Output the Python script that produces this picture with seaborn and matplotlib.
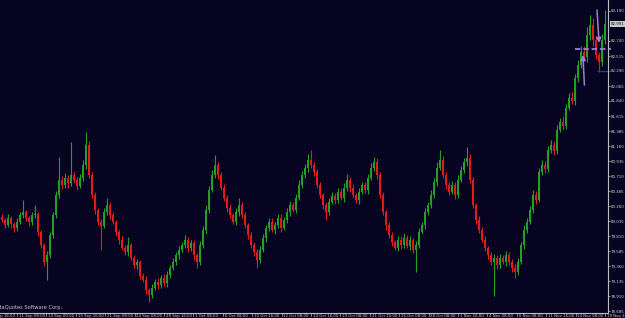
import numpy as np
import pandas as pd
import matplotlib
matplotlib.use("Agg")
import matplotlib.pyplot as plt
import matplotlib.transforms as mtransforms
import seaborn as sns

# ---------------- data ----------------
first_open = 80.10
closes = [
    80.06, 79.98, 80.09, 79.99, 79.93, 80.02, 80.13, 80.17, 80.08, 80.02,
    80.13, 80.15, 79.87, 79.68, 79.43, 79.53, 79.83, 80.13, 80.43, 80.66,
    80.58, 80.69, 80.61, 80.73, 80.66, 80.57, 80.69, 80.88, 81.18, 80.73,
    80.43, 80.21, 80.03, 79.97, 80.18, 80.28, 80.13, 80.03, 79.87, 79.76,
    79.64, 79.58, 79.68, 79.49, 79.38, 79.42, 79.22, 79.16, 79.01, 78.93,
    79.04, 79.13, 79.08, 79.19, 79.11, 79.23, 79.34, 79.43, 79.53, 79.61,
    79.68, 79.76, 79.64, 79.71, 79.53, 79.43, 79.68, 79.91, 80.21, 80.51,
    80.73, 80.88, 80.73, 80.54, 80.39, 80.24, 80.13, 80.03, 80.18, 80.28,
    80.13, 79.98, 79.83, 79.68, 79.58, 79.46, 79.61, 79.79, 79.94, 80.03,
    79.91, 79.98, 80.09, 79.94, 80.06, 80.18, 80.28, 80.21, 80.39, 80.58,
    80.73, 80.84, 80.96, 80.88, 80.78, 80.58, 80.43, 80.28, 80.18, 80.33,
    80.42, 80.36, 80.48, 80.39, 80.54, 80.66, 80.54, 80.43, 80.36, 80.48,
    80.58, 80.51, 80.69, 80.84, 80.93, 80.73, 80.43, 80.18, 79.98, 79.83,
    79.72, 79.64, 79.76, 79.68, 79.79, 79.67, 79.76, 79.61, 79.68, 79.88,
    79.98, 80.18, 80.28, 80.43, 80.63, 80.84, 80.96, 80.73, 80.58, 80.48,
    80.58, 80.43, 80.66, 80.81, 80.93, 80.99, 80.66, 80.28, 80.06, 79.91,
    79.76, 79.64, 79.53, 79.43, 79.49, 79.38, 79.49, 79.43, 79.53, 79.43,
    79.34, 79.28, 79.43, 79.68, 79.91, 80.03, 80.21, 80.43, 80.36, 80.78,
    80.88, 80.82, 81.11, 81.18, 81.09, 81.41, 81.53, 81.47, 81.74, 81.89,
    81.84, 82.19, 82.38, 82.58, 82.50, 82.83, 82.98, 82.76, 82.53, 82.43,
    82.76, 82.99,
]
upper_wicks = [
    .04, .03, .05, .03, .04, .06, .05, .19, .04, .03,
    .05, .13, .03, .04, .03, .06, .05, .04, .06, .34,
    .05, .07, .04, .49, .05, .04, .06, .08, .19, .06,
    .04, .05, .03, .04, .06, .11, .04, .05, .03, .04,
    .05, .04, .12, .03, .04, .05, .03, .04, .05, .03,
    .06, .04, .05, .04, .05, .06, .04, .05, .04, .06,
    .05, .07, .04, .05, .04, .03, .06, .05, .07, .06,
    .08, .15, .05, .04, .06, .04, .05, .03, .06, .11,
    .04, .05, .03, .04, .05, .04, .06, .05, .04, .06,
    .05, .04, .06, .05, .04, .05, .06, .04, .05, .07,
    .06, .05, .08, .15, .05, .04, .05, .03, .04, .06,
    .05, .04, .06, .05, .07, .08, .04, .05, .03, .06,
    .05, .04, .06, .07, .07, .05, .04, .05, .03, .04,
    .05, .04, .06, .05, .07, .04, .05, .03, .06, .05,
    .04, .06, .05, .07, .06, .08, .14, .05, .04, .05,
    .06, .04, .07, .06, .05, .16, .05, .04, .03, .05,
    .04, .05, .03, .04, .06, .04, .05, .04, .06, .05,
    .04, .05, .06, .05, .07, .05, .06, .07, .06, .05,
    .07, .06, .05, .08, .06, .07, .05, .08, .06, .07,
    .08, .06, .07, .09, .08, .12, .15, .10, .06, .05,
    .08, .22,
]
lower_wicks = [
    .04, .05, .03, .06, .05, .04, .03, .05, .04, .06,
    .04, .05, .06, .05, .07, .28, .05, .04, .05, .04,
    .06, .05, .07, .04, .05, .06, .04, .05, .06, .05,
    .04, .06, .05, .37, .04, .05, .06, .04, .05, .06,
    .04, .05, .06, .04, .05, .06, .05, .04, .06, .10,
    .05, .04, .06, .05, .04, .06, .05, .04, .05, .06,
    .04, .05, .06, .05, .07, .10, .05, .04, .06, .05,
    .04, .05, .06, .04, .05, .06, .05, .04, .05, .06,
    .05, .04, .06, .05, .07, .12, .05, .04, .06, .05,
    .04, .06, .05, .07, .04, .05, .06, .04, .05, .04,
    .05, .04, .06, .05, .07, .05, .04, .06, .12, .05,
    .04, .06, .05, .04, .06, .05, .07, .04, .05, .06,
    .04, .05, .06, .04, .05, .06, .04, .05, .07, .05,
    .06, .04, .05, .06, .05, .04, .06, .05, .33, .05,
    .04, .06, .05, .04, .05, .06, .04, .05, .06, .05,
    .04, .06, .05, .04, .05, .06, .05, .04, .06, .05,
    .04, .05, .06, .05, .51, .06, .05, .04, .06, .05,
    .06, .10, .05, .04, .06, .05, .04, .05, .06, .04,
    .05, .06, .04, .05, .06, .05, .04, .06, .05, .04,
    .05, .06, .07, .05, .06, .08, .07, .09, .06, .15,
    .07, .06,
]
# 82.965 sits under the current-price box in the reference, so it is not shown
price_tick_labels = ["83.190", "82.740", "82.515", "82.290", "82.065",
                     "81.840", "81.615", "81.385", "81.160", "80.935", "80.710",
                     "80.485", "80.260", "80.035", "79.810", "79.585", "79.360",
                     "79.135", "78.910", "78.685"]
time_labels = ["10 Sep 16:00", "11 Sep 08:00", "14 Sep 00:00", "15 Sep 16:00",
               "21 Sep 08:00", "24 Sep 08:00", "28 Sep 16:00", "1 Oct 08:00",
               "6 Oct 08:00", "10 Oct 16:00", "12 Oct 08:00", "14 Oct 16:00",
               "19 Oct 08:00", "21 Oct 16:00", "26 Oct 08:00", "28 Oct 08:00",
               "1 Nov 16:00", "4 Nov 08:00", "6 Nov 08:00", "11 Nov 16:00",
               "14 Nov 08:00", "19 Nov 16:00"]
current_price_label = "82.991"
level_price = 82.62
bid_price = 82.29
footer = "MetaQuotes Software Corp."

# ---------------- styling ----------------
BG = "#060420"
UP = "#23a023"
DOWN = "#e41a1a"
FG = "#cfcfcf"
LAV = "#9b80d8"

sns.set_style("dark", {"axes.facecolor": BG, "figure.facecolor": BG})
plt.rcParams["font.family"] = ["DejaVu Sans"]

W, H = 625, 318
fig = plt.figure(figsize=(W / 100, H / 100), dpi=100)
fig.patch.set_facecolor(BG)
ax_w_px, ax_h_px = 608, 313
ax = fig.add_axes([0, (H - ax_h_px) / H, ax_w_px / W, ax_h_px / H])
ax.set_facecolor(BG)

df = pd.DataFrame({"close": closes, "uw": upper_wicks, "lw": lower_wicks})
df["bar"] = np.arange(len(df))
df["open"] = df["close"].shift(1).fillna(first_open)
df["top"] = df[["open", "close"]].max(axis=1)
df["bot"] = df[["open", "close"]].min(axis=1)
df["high"] = df["top"] + df["uw"]
df["low"] = df["bot"] - df["lw"]
df["col"] = np.where(df["close"] >= df["open"], UP, DOWN)

ax.vlines(df["bar"], df["low"], df["high"], colors=df["col"], lw=0.8)
ax.bar(df["bar"], (df["top"] - df["bot"]).clip(lower=0.012), bottom=df["bot"],
       width=0.62, color=df["col"], linewidth=0)

px_per_bar = 3.0
ax.set_xlim(-0.5, ax_w_px / px_per_bar - 0.5)
ax.set_ylim(78.66, 83.355)
ax.grid(False)

# right price axis
ax.yaxis.tick_right()
ax.set_yticks([float(s) for s in price_tick_labels])
ax.set_yticklabels(price_tick_labels)
ax.tick_params(axis="y", colors=FG, labelsize=2.9, length=1.5, width=0.5, pad=0.6)
ax.set_xticks([])
for s in ["left", "top"]:
    ax.spines[s].set_visible(False)
for s in ["right", "bottom"]:
    ax.spines[s].set_visible(True)
    ax.spines[s].set_color("#bdbdbd")
    ax.spines[s].set_linewidth(0.8)

# time labels under the axis (left aligned after small tick)
tr = mtransforms.blended_transform_factory(ax.transData, ax.transAxes)
label_step_bars = 9.8
for k, lab in enumerate(time_labels):
    xb = (k - 1) * label_step_bars + 5.17
    ax.plot([xb, xb], [0, -0.010], transform=tr, color="#bdbdbd", lw=0.5, clip_on=False)
    ax.text(xb + 0.6, -0.003, lab, transform=tr, fontsize=2.8, color=FG,
            ha="left", va="top", clip_on=False)

# footer text (cut at the left edge as in the reference)
fig.text(-8 / W, (H - 308) / H, footer, fontsize=3.7, color="#c8c8c8", ha="left", va="center")

# level line, bid line, arrows
ax.hlines(level_price, 191.3, 203.2, colors=LAV, linestyles=(0, (3, 1.6)), lw=1.3, clip_on=False)
ax.hlines(bid_price, 198.6, 203.0, colors="#1c3cc0", lw=0.9, clip_on=False)
ax.annotate("", xy=(193.8, 82.53), xytext=(194.3, 82.08),
            arrowprops=dict(arrowstyle="-|>", color=LAV, lw=1.1, mutation_scale=7,
                            shrinkA=0, shrinkB=0))
ax.annotate("", xy=(199.2, 82.71), xytext=(198.5, 83.205),
            arrowprops=dict(arrowstyle="-|>", color=LAV, lw=1.1, mutation_scale=7,
                            shrinkA=0, shrinkB=0))

# current price label on the axis
trp = mtransforms.blended_transform_factory(ax.transAxes, ax.transData)
ax.text(1.004, float(current_price_label), current_price_label, transform=trp,
        fontsize=2.9, color="#111122", ha="left", va="center", clip_on=False,
        bbox=dict(boxstyle="square,pad=0.2", fc="#c9c9c9", ec="none"))

fig.savefig("out.png", dpi=100, facecolor=BG)
